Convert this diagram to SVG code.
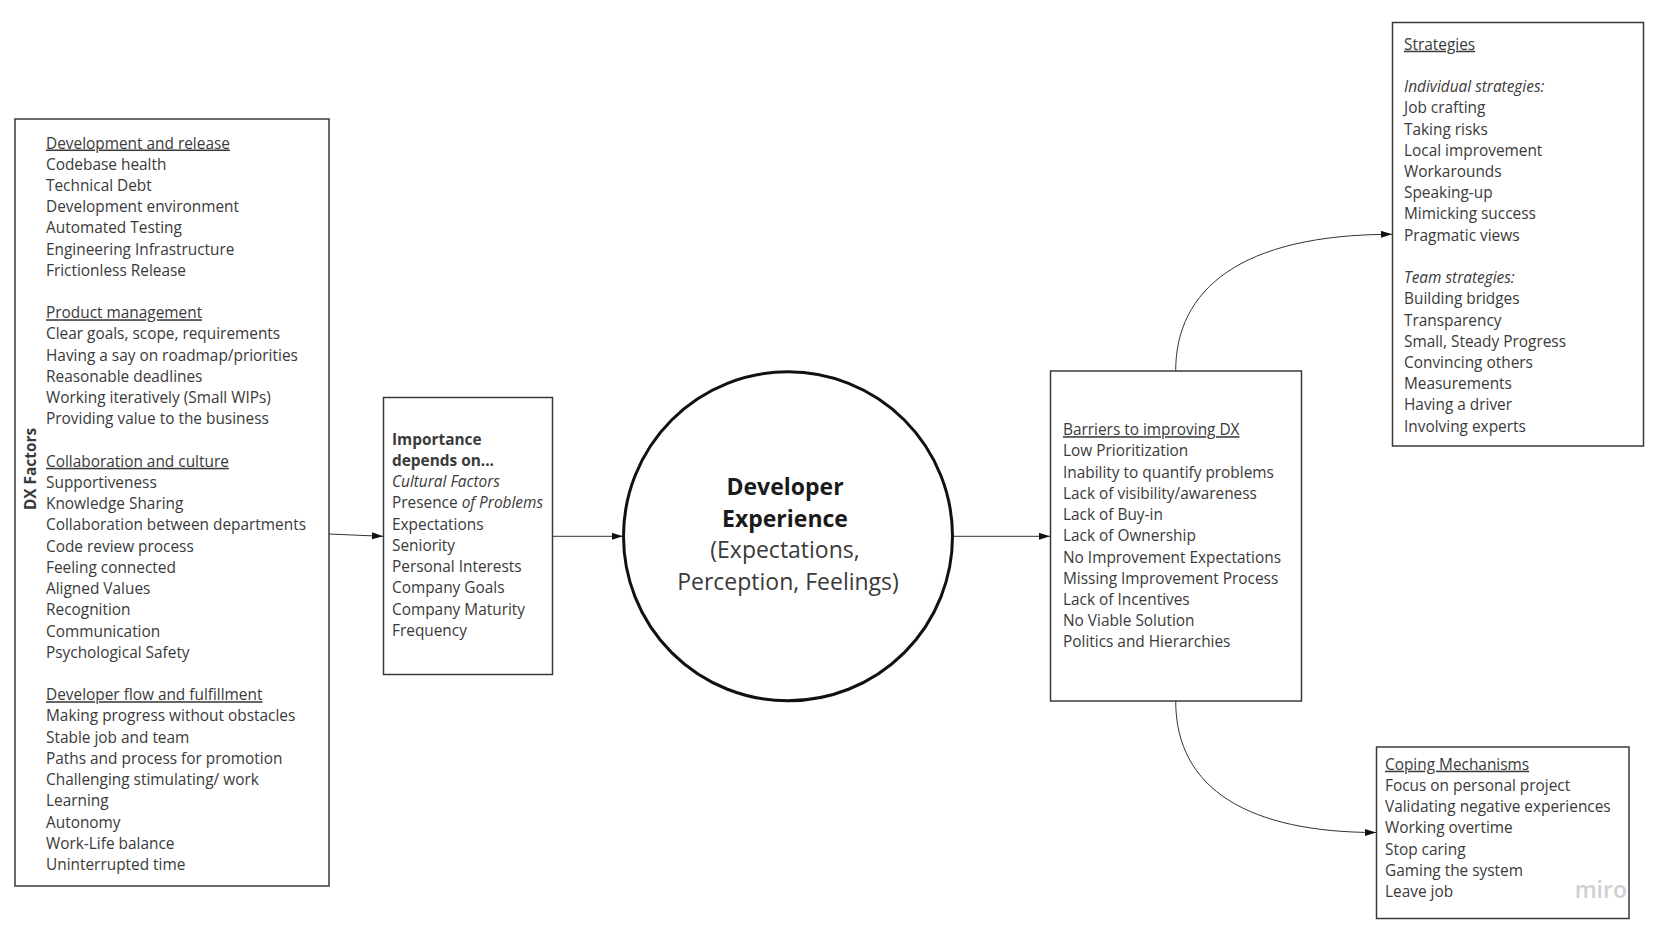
<svg xmlns="http://www.w3.org/2000/svg" width="1665" height="938" viewBox="0 0 1665 938">
<style>
.box{fill:#fff;stroke:#3a3a3a;stroke-width:1.5}
.t{font-family:"Open Sans","Noto Sans",sans-serif;font-size:15.4px;fill:#3a3a3a}
.u{text-decoration:underline}
.i{font-style:italic}
.b{font-weight:bold}
.c{stroke:#333;stroke-width:1;fill:none}
</style>
<defs>
<marker id="ah" markerUnits="userSpaceOnUse" markerWidth="12" markerHeight="8" refX="11" refY="3.5" orient="auto">
<path d="M0,0 L11,3.5 L0,7 z" fill="#111"/>
</marker>
</defs>
<rect width="1665" height="938" fill="#fff"/>
<g id="connectors">
<path class="c" d="M329,534 L383,536.3" marker-end="url(#ah)"/>
<path class="c" d="M552.5,536.3 L623,536.3" marker-end="url(#ah)"/>
<path class="c" d="M952.5,536.3 L1050,536.3" marker-end="url(#ah)"/>
<path class="c" d="M1175.7,370.7 C1175.7,290 1240,234.3 1392,234.3" marker-end="url(#ah)"/>
<path class="c" d="M1175.7,701 C1175.7,790 1250,832.5 1376,832.5" marker-end="url(#ah)"/>
</g>
<g id="dx-factors">
<rect class="box" x="15" y="119" width="314" height="767"/>
<text class="t b" transform="translate(36,469) rotate(-90)" text-anchor="middle">DX Factors</text>
<text class="t">
<tspan x="46" y="148.5" class="u">Development and release</tspan>
<tspan x="46" dy="21.22">Codebase health</tspan>
<tspan x="46" dy="21.22">Technical Debt</tspan>
<tspan x="46" dy="21.22">Development environment</tspan>
<tspan x="46" dy="21.22">Automated Testing</tspan>
<tspan x="46" dy="21.22">Engineering Infrastructure</tspan>
<tspan x="46" dy="21.22">Frictionless Release</tspan>
<tspan x="46" dy="42.44" class="u">Product management</tspan>
<tspan x="46" dy="21.22">Clear goals, scope, requirements</tspan>
<tspan x="46" dy="21.22">Having a say on roadmap/priorities</tspan>
<tspan x="46" dy="21.22">Reasonable deadlines</tspan>
<tspan x="46" dy="21.22">Working iteratively (Small WIPs)</tspan>
<tspan x="46" dy="21.22">Providing value to the business</tspan>
<tspan x="46" dy="42.44" class="u">Collaboration and culture</tspan>
<tspan x="46" dy="21.22">Supportiveness</tspan>
<tspan x="46" dy="21.22">Knowledge Sharing</tspan>
<tspan x="46" dy="21.22">Collaboration between departments</tspan>
<tspan x="46" dy="21.22">Code review process</tspan>
<tspan x="46" dy="21.22">Feeling connected</tspan>
<tspan x="46" dy="21.22">Aligned Values</tspan>
<tspan x="46" dy="21.22">Recognition</tspan>
<tspan x="46" dy="21.22">Communication</tspan>
<tspan x="46" dy="21.22">Psychological Safety</tspan>
<tspan x="46" dy="42.44" class="u">Developer flow and fulfillment</tspan>
<tspan x="46" dy="21.22">Making progress without obstacles</tspan>
<tspan x="46" dy="21.22">Stable job and team</tspan>
<tspan x="46" dy="21.22">Paths and process for promotion</tspan>
<tspan x="46" dy="21.22">Challenging stimulating/ work</tspan>
<tspan x="46" dy="21.22">Learning</tspan>
<tspan x="46" dy="21.22">Autonomy</tspan>
<tspan x="46" dy="21.22">Work-Life balance</tspan>
<tspan x="46" dy="21.22">Uninterrupted time</tspan>
</text>
</g>
<g id="importance">
<rect class="box" x="383.5" y="397.5" width="169" height="277"/>
<text class="t">
<tspan x="392" y="444.8" class="b">Importance</tspan>
<tspan x="392" dy="21.22" class="b">depends on...</tspan>
<tspan x="392" dy="21.22" class="i">Cultural Factors</tspan>
<tspan x="392" dy="21.22">Presence <tspan class="i">of Problems</tspan></tspan>
<tspan x="392" dy="21.22">Expectations</tspan>
<tspan x="392" dy="21.22">Seniority</tspan>
<tspan x="392" dy="21.22">Personal Interests</tspan>
<tspan x="392" dy="21.22">Company Goals</tspan>
<tspan x="392" dy="21.22">Company Maturity</tspan>
<tspan x="392" dy="21.22">Frequency</tspan>
</text>
</g>
<g id="developer-experience">
<circle cx="788" cy="536.3" r="164.5" fill="#fff" stroke="#111" stroke-width="3"/>
<text class="t" text-anchor="middle" style="font-size:23px">
<tspan x="788" y="495" class="b" fill="#1a1a1a">Developer</tspan>
<tspan x="788" dy="31.5" class="b" fill="#1a1a1a">Experience</tspan>
<tspan x="788" dy="31.5">(Expectations,</tspan>
<tspan x="788" dy="31.5">Perception, Feelings)</tspan>
</text>
</g>
<g id="barriers">
<rect class="box" x="1050.5" y="371" width="251" height="330"/>
<text class="t">
<tspan x="1063" y="435.2" class="u">Barriers to improving DX</tspan>
<tspan x="1063" dy="21.22">Low Prioritization</tspan>
<tspan x="1063" dy="21.22">Inability to quantify problems</tspan>
<tspan x="1063" dy="21.22">Lack of visibility/awareness</tspan>
<tspan x="1063" dy="21.22">Lack of Buy-in</tspan>
<tspan x="1063" dy="21.22">Lack of Ownership</tspan>
<tspan x="1063" dy="21.22">No Improvement Expectations</tspan>
<tspan x="1063" dy="21.22">Missing Improvement Process</tspan>
<tspan x="1063" dy="21.22">Lack of Incentives</tspan>
<tspan x="1063" dy="21.22">No Viable Solution</tspan>
<tspan x="1063" dy="21.22">Politics and Hierarchies</tspan>
</text>
</g>
<g id="strategies">
<rect class="box" x="1392.5" y="22.5" width="251" height="423.5"/>
<text class="t">
<tspan x="1404" y="49.7" class="u">Strategies</tspan>
<tspan x="1404" dy="42.44" class="i">Individual strategies:</tspan>
<tspan x="1404" dy="21.22">Job crafting</tspan>
<tspan x="1404" dy="21.22">Taking risks</tspan>
<tspan x="1404" dy="21.22">Local improvement</tspan>
<tspan x="1404" dy="21.22">Workarounds</tspan>
<tspan x="1404" dy="21.22">Speaking-up</tspan>
<tspan x="1404" dy="21.22">Mimicking success</tspan>
<tspan x="1404" dy="21.22">Pragmatic views</tspan>
<tspan x="1404" dy="42.44" class="i">Team strategies:</tspan>
<tspan x="1404" dy="21.22">Building bridges</tspan>
<tspan x="1404" dy="21.22">Transparency</tspan>
<tspan x="1404" dy="21.22">Small, Steady Progress</tspan>
<tspan x="1404" dy="21.22">Convincing others</tspan>
<tspan x="1404" dy="21.22">Measurements</tspan>
<tspan x="1404" dy="21.22">Having a driver</tspan>
<tspan x="1404" dy="21.22">Involving experts</tspan>
</text>
</g>
<g id="coping">
<rect class="box" x="1376.5" y="747" width="252.5" height="171.5"/>
<text class="t">
<tspan x="1385" y="769.7" class="u">Coping Mechanisms</tspan>
<tspan x="1385" dy="21.22">Focus on personal project</tspan>
<tspan x="1385" dy="21.22">Validating negative experiences</tspan>
<tspan x="1385" dy="21.22">Working overtime</tspan>
<tspan x="1385" dy="21.22">Stop caring</tspan>
<tspan x="1385" dy="21.22">Gaming the system</tspan>
<tspan x="1385" dy="21.22">Leave job</tspan>
</text>
<text x="1627" y="898" text-anchor="end" style="font-family:'Open Sans',sans-serif;font-size:23px;font-weight:600;fill:#cfcfd6">miro</text>
</g>
</svg>
